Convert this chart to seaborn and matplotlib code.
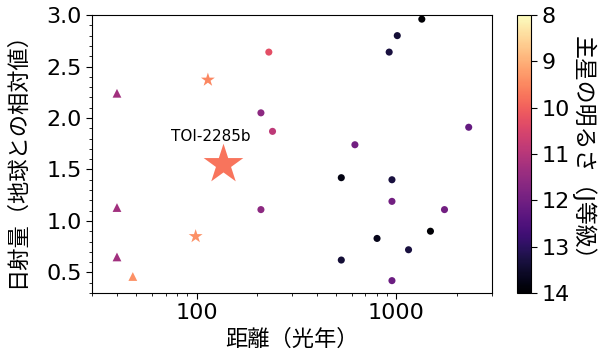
import pandas as pd
import seaborn as sns
import matplotlib.pyplot as plt
import matplotlib as mpl
from matplotlib.ticker import MultipleLocator, FuncFormatter

sns.set_style("ticks", {'axes.edgecolor': 'black', 'xtick.color': 'black', 'ytick.color': 'black',
                        'text.color': 'black', 'axes.labelcolor': 'black'})
plt.rcParams['font.family'] = ['DejaVu Sans', 'Noto Sans CJK JP']

# Planets (circles)
circle_dist = [230, 1340, 1010, 920, 210, 240, 2300, 620, 530, 950, 210, 950, 1740, 1480, 800, 1150, 530, 950]
circle_flux = [2.64, 2.96, 2.80, 2.64, 2.05, 1.87, 1.91, 1.74, 1.42, 1.40, 1.11, 1.19, 1.11, 0.90, 0.83, 0.72, 0.62, 0.42]
circle_jmag = [10.3, 14.0, 13.4, 13.3, 11.6, 10.9, 12.2, 12.0, 13.8, 13.3, 11.6, 12.0, 12.0, 14.0, 13.7, 13.3, 13.4, 12.1]

# Triangles
tri_dist = [40, 40, 40, 48]
tri_flux = [2.24, 1.13, 0.65, 0.46]
tri_jmag = [11.3, 11.3, 11.3, 9.4]

# Small stars
star_dist = [114, 99]
star_flux = [2.37, 0.85]
star_jmag = [9.5, 9.4]

# TOI-2285b
toi_dist = [135]
toi_flux = [1.55]
toi_jmag = [9.75]

cmap = 'magma_r'
norm = (8, 14)

fig = plt.figure(figsize=(5.99, 3.58), dpi=100)
ax = fig.add_axes([0.1536, 0.1816, 0.6674, 0.7764])
cax = fig.add_axes([0.8626, 0.1816, 0.0234, 0.7764])

sns.scatterplot(x=circle_dist, y=circle_flux, hue=circle_jmag, palette=cmap, hue_norm=norm,
                marker='o', s=26, linewidth=0, legend=False, ax=ax)
sns.scatterplot(x=tri_dist, y=tri_flux, hue=tri_jmag, palette=cmap, hue_norm=norm,
                marker='^', s=40, linewidth=0, legend=False, ax=ax)
sns.scatterplot(x=star_dist, y=star_flux, hue=star_jmag, palette=cmap, hue_norm=norm,
                marker='*', s=110, linewidth=0, legend=False, ax=ax)
sns.scatterplot(x=toi_dist, y=toi_flux, hue=toi_jmag, palette=cmap, hue_norm=norm,
                marker='*', s=900, linewidth=0, legend=False, ax=ax)

ax.text(118, 1.82, 'TOI-2285b', ha='center', va='center', fontsize=11)

ax.set_xscale('log')
ax.set_xlim(30, 3000)
ax.xaxis.set_major_formatter(FuncFormatter(lambda v, p: f'{v:g}'))
ax.set_ylim(0.3, 3.0)
ax.yaxis.set_major_locator(MultipleLocator(0.5))
ax.yaxis.set_minor_locator(MultipleLocator(0.1))
ax.tick_params(labelsize=16, length=4)
ax.tick_params(which='minor', length=2)
ax.set_xlabel('距離（光年）', fontsize=16)
ax.set_ylabel('日射量（地球との相対値）', fontsize=16, va='center')
ax.yaxis.set_label_coords(-0.19, 0.5)

sm = mpl.cm.ScalarMappable(norm=mpl.colors.Normalize(*norm), cmap=cmap)
cbar = fig.colorbar(sm, cax=cax)
cbar.ax.invert_yaxis()
cbar.ax.tick_params(labelsize=16, length=4)
cbar.set_label('主星の明るさ（J等級）', fontsize=16.5, rotation=270, va='center', ha='center')
cbar.ax.yaxis.set_label_coords(4.75, 0.5)

fig.savefig('out.png', dpi=100)
